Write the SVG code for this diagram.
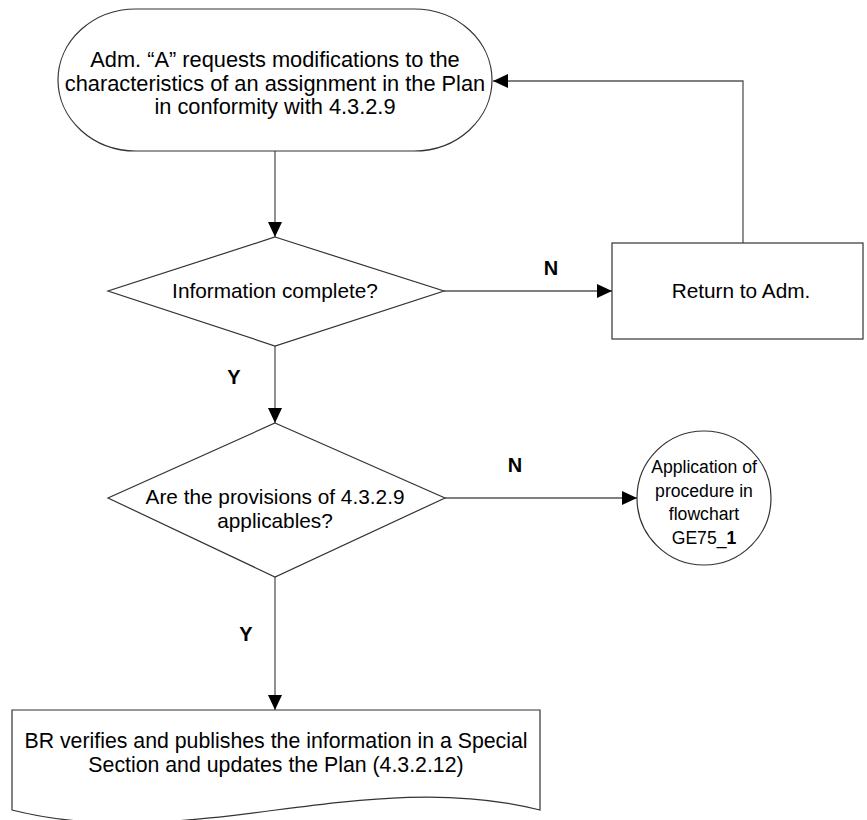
<svg xmlns="http://www.w3.org/2000/svg" width="867" height="820" viewBox="0 0 867 820">
<defs>
<style>
.shape{fill:#fff;stroke:#333;stroke-width:1.2}
.conn{fill:none;stroke:#555;stroke-width:1.3}
.t{font-family:"Liberation Sans",Arial,sans-serif;font-size:20.8px;fill:#000;text-anchor:middle}
.big{font-size:21.8px}
.doc{font-size:21.3px}
.small{font-size:17.6px}
.lbl{font-family:"Liberation Sans",Arial,sans-serif;font-size:20px;font-weight:bold;fill:#000;text-anchor:middle}
</style>
<marker id="arr" markerUnits="userSpaceOnUse" markerWidth="16" markerHeight="14" refX="15" refY="7" orient="auto">
<path d="M0,0 L15,7 L0,14 Z" fill="#000"/>
</marker>
</defs>
<rect width="867" height="820" fill="#fff"/>
<g id="connectors">
<line class="conn" x1="275" y1="151" x2="275" y2="237" marker-end="url(#arr)"/>
<line class="conn" x1="444" y1="291" x2="612" y2="291" marker-end="url(#arr)"/>
<polyline class="conn" points="743,243 743,81 493,81" marker-end="url(#arr)"/>
<line class="conn" x1="275" y1="346" x2="275" y2="423" marker-end="url(#arr)"/>
<line class="conn" x1="445" y1="498" x2="637" y2="498" marker-end="url(#arr)"/>
<line class="conn" x1="275" y1="577" x2="275" y2="710" marker-end="url(#arr)"/>
<text class="lbl" x="551" y="275">N</text>
<text class="lbl" x="234" y="384">Y</text>
<text class="lbl" x="515" y="472">N</text>
<text class="lbl" x="246" y="641">Y</text>
</g>
<g id="start">
<rect class="shape" x="58" y="9" width="434" height="142" rx="78" ry="71"/>
<text class="t big" x="275" y="67">Adm. “A” requests modifications to the</text>
<text class="t big" x="275" y="90.5">characteristics of an assignment in the Plan</text>
<text class="t big" x="275" y="114">in conformity with 4.3.2.9</text>
</g>
<g id="decision1">
<polygon class="shape" points="275,237 444,291 275,346 108,291"/>
<text class="t" x="275" y="298">Information complete?</text>
</g>
<g id="return">
<rect class="shape" x="612" y="243" width="251" height="96"/>
<text class="t" x="741" y="298">Return to Adm.</text>
</g>
<g id="decision2">
<polygon class="shape" points="275,423 445,498 275,577 108,498"/>
<text class="t" x="275" y="504">Are the provisions of 4.3.2.9</text>
<text class="t" x="275" y="527.5">applicables?</text>
</g>
<g id="connector-ref">
<circle class="shape" cx="704" cy="498" r="67"/>
<text class="t small" x="704" y="473">Application of</text>
<text class="t small" x="704" y="496.5">procedure in</text>
<text class="t small" x="704" y="520">flowchart</text>
<text class="t small" x="704" y="543.5">GE75_<tspan font-weight="bold">1</tspan></text>
</g>
<g id="publish">
<path class="shape" d="M12,710 H540 V810 C364,765 188,855 12,810 Z"/>
<text class="t doc" x="276" y="748">BR verifies and publishes the information in a Special</text>
<text class="t doc" x="276" y="771.5">Section and updates the Plan (4.3.2.12)</text>
</g>
</svg>
